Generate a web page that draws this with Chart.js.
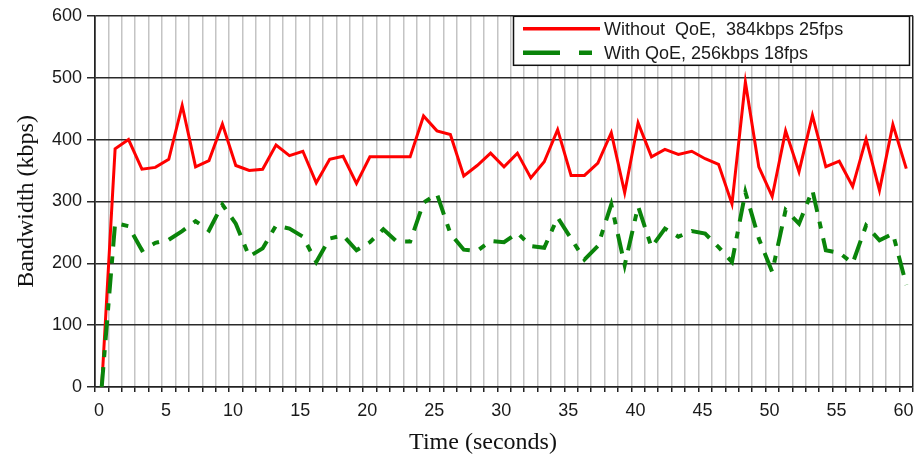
<!DOCTYPE html>
<html>
<head>
<meta charset="utf-8">
<script src="https://cdn.jsdelivr.net/npm/chart.js@4/dist/chart.umd.min.js"></script>
<style>
html, body { margin: 0; padding: 0; background: #ffffff; }
#wrap { position: relative; width: 917px; height: 459px; }
</style>
</head>
<body>
<div id="wrap"><canvas id="c" width="917" height="459"></canvas></div>
<script>
// ---- data ----
const timeSeconds = [0.5, 1.5, 2.5, 3.5, 4.5, 5.5, 6.5, 7.5, 8.5, 9.5,
  10.5, 11.5, 12.5, 13.5, 14.5, 15.5, 16.5, 17.5, 18.5, 19.5,
  20.5, 21.5, 22.5, 23.5, 24.5, 25.5, 26.5, 27.5, 28.5, 29.5,
  30.5, 31.5, 32.5, 33.5, 34.5, 35.5, 36.5, 37.5, 38.5, 39.5,
  40.5, 41.5, 42.5, 43.5, 44.5, 45.5, 46.5, 47.5, 48.5, 49.5,
  50.5, 51.5, 52.5, 53.5, 54.5, 55.5, 56.5, 57.5, 58.5, 59.5, 60.5];

const withoutQoE = [0, 385, 400, 352, 355, 368, 455, 356, 366, 425,
  358, 350, 352, 391, 374, 381, 330, 368, 373, 329,
  372, 372, 372, 372, 438, 414, 408, 341, 358, 378,
  356, 378, 338, 364, 416, 342, 342, 362, 411, 314,
  427, 372, 384, 376, 381, 369, 360, 296, 493, 356,
  308, 414, 348, 439, 356, 365, 324, 401, 318, 424, 353];

const withQoE = [0, 265, 260, 221, 233, 238, 252, 268, 253, 295,
  264, 211, 224, 261, 256, 243, 202, 240, 245, 221,
  234, 255, 235, 235, 298, 312, 248, 222, 220, 236,
  234, 249, 228, 225, 274, 240, 206, 228, 295, 197,
  292, 226, 256, 243, 252, 248, 226, 202, 315, 240,
  186, 286, 264, 318, 221, 217, 200, 261, 237, 248, 165];

const seriesLabels = ['Without  QoE,  384kbps 25fps', 'With QoE, 256kbps 18fps'];
const xTickLabelValues = [0, 5, 10, 15, 20, 25, 30, 35, 40, 45, 50, 55, 60];
const yTickValues = [0, 100, 200, 300, 400, 500, 600];
const xTitle = 'Time (seconds)';
const yTitle = 'Bandwidth (kbps)';

// ---- chart ----
const RED = '#ff0000';
const GREEN = '#0a840a';
const GREEN_DASH = [20, 10, 7, 10];
const TICK_FONT = { family: '"Liberation Sans", Arial, sans-serif', size: 18 };
const TITLE_FONT = { family: '"Liberation Serif", "Times New Roman", serif', size: 24 };

const legendBoxPlugin = {
  id: 'legendBox',
  afterLayout(chart) {
    // the reference centres the x-axis title a little left of the plot centre
    const sc = chart.scales.x;
    if (sc && !sc._titleShifted) {
      const orig = sc.drawTitle;
      sc.drawTitle = function () {
        this.ctx.save();
        this.ctx.translate(-21, 0);
        orig.call(this);
        this.ctx.restore();
      };
      sc._titleShifted = true;
    }
  },
  afterDraw(chart) {
    const ctx = chart.ctx;
    const area = chart.chartArea;
    const boxRight = area.right - 3;
    const boxLeft = boxRight - 397;
    const boxTop = area.top;
    const boxH = 50;
    ctx.save();
    ctx.fillStyle = '#ffffff';
    ctx.fillRect(boxLeft, boxTop, boxRight - boxLeft, boxH);
    ctx.strokeStyle = '#111111';
    ctx.lineWidth = 1.5;
    ctx.strokeRect(boxLeft + 0.5, boxTop + 0.5, boxRight - boxLeft - 1, boxH - 1);

    const ds = chart.data.datasets;
    const rows = [boxTop + 13, boxTop + 37];
    const sx0 = boxLeft + 10, sx1 = boxLeft + 87;
    ctx.font = '18px "Liberation Sans", Arial, sans-serif';
    ctx.textBaseline = 'middle';
    ctx.textAlign = 'left';
    ds.forEach((d, i) => {
      const y = rows[i];
      ctx.strokeStyle = d.borderColor;
      ctx.lineWidth = d.borderWidth + 0.5;
      ctx.lineCap = 'butt';
      ctx.beginPath();
      if (d.borderDash && d.borderDash.length) {
        ctx.moveTo(sx0, y); ctx.lineTo(sx0 + 37, y);
        ctx.moveTo(sx0 + 56, y); ctx.lineTo(sx0 + 69, y);
      } else {
        ctx.moveTo(sx0, y); ctx.lineTo(sx1, y);
      }
      ctx.stroke();
      ctx.fillStyle = '#1a1a1a';
      ctx.fillText(d.label, sx1 + 4, y + 1);
    });
    ctx.restore();
  }
};

new Chart(document.getElementById('c'), {
  type: 'line',
  data: {
    datasets: [
      {
        label: seriesLabels[0],
        data: timeSeconds.map((t, i) => ({ x: t, y: withoutQoE[i] })),
        borderColor: RED,
        borderWidth: 3,
        pointRadius: 0,
        tension: 0,
        fill: false,
        order: 1
      },
      {
        label: seriesLabels[1],
        data: timeSeconds.map((t, i) => ({ x: t, y: withQoE[i] })),
        borderColor: GREEN,
        borderWidth: 4,
        borderDash: GREEN_DASH,
        pointRadius: 0,
        tension: 0,
        fill: false,
        order: 0
      }
    ]
  },
  options: {
    responsive: false,
    animation: false,
    devicePixelRatio: 1,
    layout: { padding: { top: 15, right: 4, left: 0, bottom: 0 } },
    plugins: {
      legend: { display: false },
      tooltip: { enabled: false }
    },
    scales: {
      x: {
        type: 'linear',
        min: 0,
        max: 61,
        afterFit: (s) => { s.height = 72; s.paddingRight = 0; s.paddingLeft = 0; },
        afterBuildTicks: (s) => {
          const t = [];
          for (let v = 0; v <= 61; v++) t.push({ value: v });
          s.ticks = t;
        },
        ticks: {
          autoSkip: false,
          maxRotation: 0,
          padding: 8,
          labelOffset: 4,
          color: '#1a1a1a',
          font: TICK_FONT,
          callback: (v) => xTickLabelValues.includes(v) ? String(v) : ''
        },
        grid: {
          color: (c) => (c.tick && (c.tick.value === 0 || c.tick.value === 61)) ? '#222222' : '#c4c4c4',
          lineWidth: 1.5,
          tickColor: '#222222',
          tickLength: 5,
          drawTicks: true
        },
        border: { display: true, color: '#222222', width: 1.5 },
        title: {
          display: true,
          text: xTitle,
          color: '#111111',
          font: TITLE_FONT,
          padding: { top: 0, bottom: 2 }
        }
      },
      y: {
        min: 0,
        max: 600,
        afterFit: (s) => { s.width = 95; },
        afterBuildTicks: (s) => { s.ticks = yTickValues.map(v => ({ value: v })); },
        ticks: {
          padding: 5,
          color: '#1a1a1a',
          font: TICK_FONT
        },
        grid: {
          color: '#2a2a2a',
          lineWidth: 1.5,
          tickColor: '#2a2a2a',
          tickLength: 8
        },
        border: { display: true, color: '#222222', width: 1.5 },
        title: {
          display: true,
          text: yTitle,
          color: '#111111',
          font: TITLE_FONT,
          padding: { top: 12, bottom: 0 }
        }
      }
    }
  },
  plugins: [legendBoxPlugin]
});
</script>
</body>
</html>
